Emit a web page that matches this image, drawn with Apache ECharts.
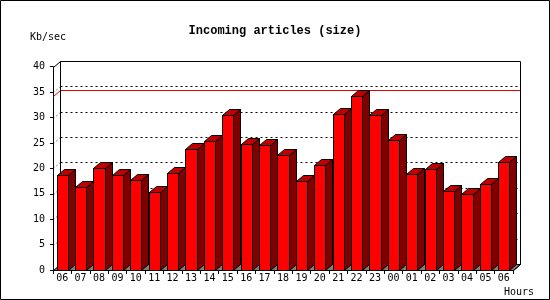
<!DOCTYPE html>
<html><head><meta charset="utf-8">
<script src="https://cdn.jsdelivr.net/npm/echarts@6/dist/echarts.min.js"></script>
<style>html,body{margin:0;padding:0;background:#fff}#c{width:550px;height:300px}</style>
</head><body><div id="c"></div><script>
// ---- data ----
const hours = ['06','07','08','09','10','11','12','13','14','15','16','17','18','19','20','21','22','23','00','01','02','03','04','05','06'];
const sizeKbps = [18.6,16.3,20.0,18.6,17.8,15.35,19.1,23.9,25.3,30.4,24.8,24.6,22.6,17.45,20.6,30.7,34.2,30.5,25.6,18.9,19.8,15.5,14.9,16.9,21.25];
const yTicks = [0,5,10,15,20,25,30,35,40];
const titleText = 'Incoming articles (size)';
const yAxisName = 'Kb/sec';
const xAxisName = 'Hours';

// ---- style ----
const DX = 7, DY = 6;
const mono = "'DejaVu Sans Mono', 'Liberation Mono', monospace";
const c = v => Math.round(v) + 0.5;
const peak = Math.max.apply(null, sizeKbps);

function renderFrame(params, api) {
  const cs = params.coordSys;
  const L = c(cs.x), R = c(cs.x + cs.width);
  const yOf = v => c(api.coord([0, v])[1]);
  const top = yOf(yTicks[yTicks.length - 1]), bot = yOf(0);
  const ch = [];
  ch.push({type:'polygon', shape:{points:[[L,bot],[R,bot],[R+DX,bot-DY],[L+DX,bot-DY]]},
    style:{fill:'#808080', stroke:'#000', lineWidth:1}});
  yTicks.slice(1, -1).forEach(v => {
    const y = yOf(v);
    ch.push({type:'line', shape:{x1:L+DX, y1:y-DY, x2:R+DX, y2:y-DY},
      style:{stroke:'#000', lineWidth:1, lineDash:[2,3]}});
    ch.push({type:'line', shape:{x1:L, y1:y, x2:L+DX, y2:y-DY},
      style:{stroke:'#000', lineWidth:1, lineDash:[1,3]}});
  });
  const yp = yOf(peak);
  ch.push({type:'line', shape:{x1:L+DX, y1:yp-DY, x2:R+DX, y2:yp-DY}, style:{stroke:'#e00000', lineWidth:1}});
  ch.push({type:'line', shape:{x1:L, y1:yp, x2:L+DX, y2:yp-DY}, style:{stroke:'#e00000', lineWidth:1}});
  ch.push({type:'polyline', shape:{points:[[L+DX,bot-DY],[L+DX,top-DY],[R+DX,top-DY],[R+DX,bot-DY],[R,bot]]},
    style:{stroke:'#000', fill:null, lineWidth:1}});
  ch.push({type:'line', shape:{x1:L, y1:top, x2:L+DX, y2:top-DY}, style:{stroke:'#000', lineWidth:1}});
  return {type:'group', children: ch};
}

function renderBar(params, api) {
  const i = api.value(0), v = api.value(1);
  const t = api.coord([i, v]), b = api.coord([i, 0]);
  const band = api.size([1, 0])[0];
  const w = band * 0.61;
  const x0 = c(t[0] - w / 2), x1 = c(t[0] + w / 2);
  const yt = c(t[1]), yb = c(b[1]);
  const s = {stroke:'#000', lineWidth:1};
  return {type:'group', children:[
    {type:'polygon', shape:{points:[[x1,yt],[x1+DX,yt-DY],[x1+DX,yb-DY],[x1,yb]]}, style:Object.assign({fill:'#800000'}, s)},
    {type:'polygon', shape:{points:[[x0,yt],[x0+DX,yt-DY],[x1+DX,yt-DY],[x1,yt]]}, style:Object.assign({fill:'#c00000'}, s)},
    {type:'polygon', shape:{points:[[x0,yt],[x1,yt],[x1,yb],[x0,yb]]}, style:Object.assign({fill:'#ff0000'}, s)}
  ]};
}

const chart = echarts.init(document.getElementById('c'), null, {renderer:'canvas'});
chart.setOption({
  animation: false,
  backgroundColor: '#fff',
  title: {text: titleText, left: 'center', top: 20,
    textStyle: {fontFamily: "'Liberation Mono', monospace", fontWeight: 'bold', fontSize: 12, color: '#000'}},
  grid: {left: 53, right: 37, top: 66.7, bottom: 30},
  xAxis: {type: 'category', data: hours,
    axisLine: {show: true, lineStyle: {color: '#000', width: 1}},
    axisTick: {show: true, length: 4, lineStyle: {color: '#000'}, interval: 0},
    axisLabel: {interval: 0, margin: 3, color: '#000', fontFamily: mono, fontSize: 10},
    splitLine: {show: false}},
  yAxis: {type: 'value', min: 0, max: 40, interval: 5,
    axisLine: {show: true, lineStyle: {color: '#000', width: 1}},
    axisTick: {show: true, length: 3, lineStyle: {color: '#000'}},
    axisLabel: {margin: 8, color: '#000', fontFamily: mono, fontSize: 10},
    splitLine: {show: false}},
  graphic: [
    {type: 'rect', shape: {x: 0.5, y: 0.5, width: 549, height: 299}, style: {fill: null, stroke: '#000', lineWidth: 1}, z: 100},
    {type: 'text', x: 30, y: 37, style: {text: yAxisName, fontFamily: mono, fontSize: 10, fill: '#000', verticalAlign: 'middle'}},
    {type: 'text', x: 504, y: 292, style: {text: xAxisName, fontFamily: mono, fontSize: 10, fill: '#000', verticalAlign: 'middle'}}
  ],
  series: [
    {type: 'custom', z: 1, silent: true, renderItem: renderFrame, data: [[0, 0]], encode: {x: 0, y: 1}, clip: false},
    {type: 'custom', z: 2, silent: true, renderItem: renderBar, data: sizeKbps.map((v, i) => [i, v]), encode: {x: 0, y: 1}, clip: false}
  ]
});
</script></body></html>
